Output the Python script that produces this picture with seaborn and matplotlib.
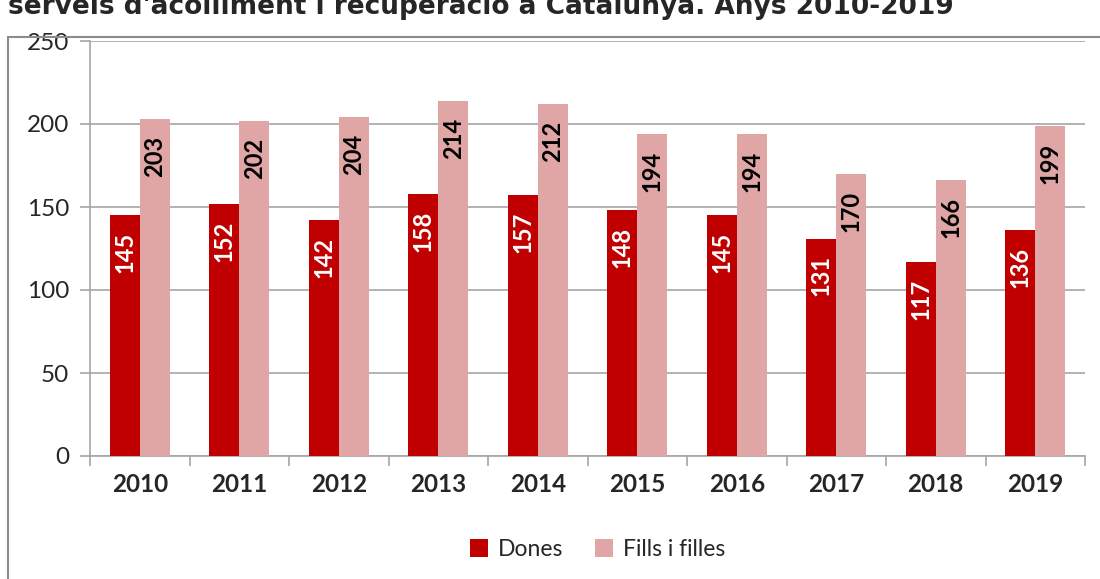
import pandas as pd
import seaborn as sns
import matplotlib.pyplot as plt
from matplotlib.patches import Rectangle
from matplotlib.ticker import FixedLocator

years = ["2010", "2011", "2012", "2013", "2014", "2015", "2016", "2017", "2018", "2019"]
dones = [145, 152, 142, 158, 157, 148, 145, 131, 117, 136]
fills = [203, 202, 204, 214, 212, 194, 194, 170, 166, 199]
series = ["Dones", "Fills i filles"]
colors = ["#C00000", "#E0A6A6"]
title = "serveis d'acolliment i recuperació a Catalunya. Anys 2010-2019"

df = pd.DataFrame({
    "year": years * 2,
    "value": dones + fills,
    "serie": [series[0]] * len(years) + [series[1]] * len(years),
})

sns.set_style("white")
plt.rcParams["font.family"] = ["Lato", "DejaVu Sans"]

fig = plt.figure(figsize=(11, 5.79), dpi=100)
ax = fig.add_axes([90 / 1100, 123 / 579, 995 / 1100, 415 / 579])

sns.barplot(data=df, x="year", y="value", hue="serie", palette=colors,
            width=0.6, saturation=1, linewidth=0, ax=ax, zorder=3)

# value labels inside bars, near the top
for cont, col in zip(ax.containers, ["white", "black"]):
    for bar in cont:
        h = bar.get_height()
        ax.annotate(f"{h:.0f}", (bar.get_x() + bar.get_width() / 2, h),
                    xytext=(0, -12), textcoords="offset points",
                    ha="center", va="top", rotation=90,
                    fontsize=17, fontweight="bold", color=col, zorder=4)

ax.set_ylim(0, 250)
ax.set_xlim(-0.5, len(years) - 0.5)
ax.set_yticks(range(0, 251, 50))
ax.yaxis.grid(True, color="#A6A6A6", linewidth=1.2, zorder=0)
ax.set_xlabel("")
ax.set_ylabel("")

for s in ["top", "right"]:
    ax.spines[s].set_visible(False)
for s in ["left", "bottom"]:
    ax.spines[s].set_color("#A6A6A6")
    ax.spines[s].set_linewidth(1.2)

ax.tick_params(axis="y", length=7, width=1.2, color="#A6A6A6", labelsize=17.5, pad=8, left=True)
ax.tick_params(axis="x", which="major", length=0, labelsize=17.5, pad=12)
ax.xaxis.set_minor_locator(FixedLocator([i - 0.5 for i in range(len(years) + 1)]))
ax.tick_params(axis="x", which="minor", length=7, width=1.2, color="#A6A6A6", bottom=True)
for lbl in ax.get_xticklabels():
    lbl.set_fontweight("bold")

leg = ax.legend(loc="center", bbox_to_anchor=(0.51, -0.225), ncol=2, frameon=False,
                fontsize=16.5, handlelength=0.8, handleheight=0.8, handletextpad=0.4,
                columnspacing=1.4, borderaxespad=0)

# outer chart frame and title, clipped at the top edge as in the source
fig.patches.append(Rectangle((8 / 1100, -0.01), 1.1, (579 - 37) / 579 + 0.01,
                             transform=fig.transFigure, fill=False,
                             edgecolor="#8C8C8C", linewidth=1.5))
fig.text(8 / 1100, 1 - 14 / 579, title, fontsize=19, fontweight="bold",
         family="DejaVu Sans", va="baseline", ha="left")

fig.savefig("out.png", dpi=100)
